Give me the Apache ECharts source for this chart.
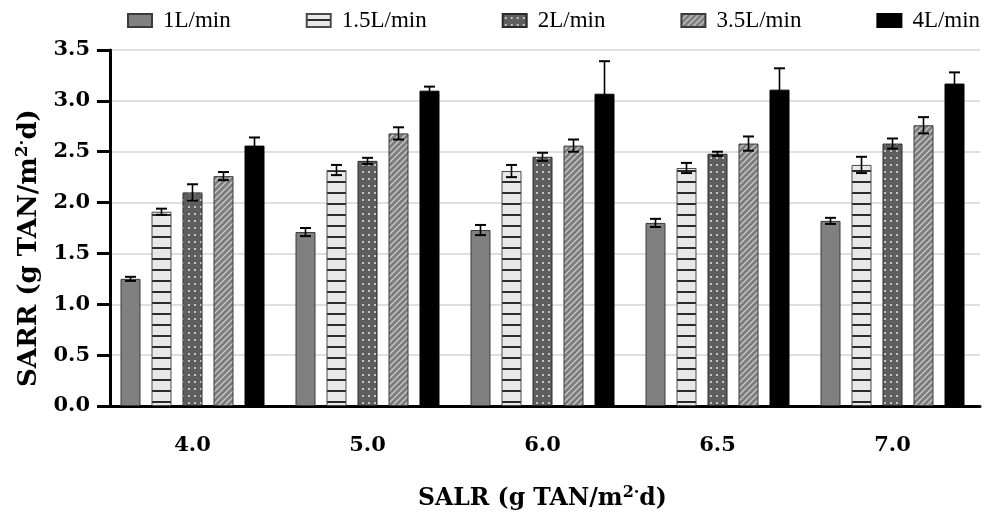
<!DOCTYPE html>
<html>
<head>
<meta charset="utf-8">
<script src="https://cdn.jsdelivr.net/npm/echarts@6/dist/echarts.min.js"></script>
<style>html,body{margin:0;padding:0;background:#fff;}#c{width:1003px;height:516px;}</style>
</head>
<body>
<div id="c"></div>
<script>
const categories = ['4.0', '5.0', '6.0', '6.5', '7.0'];
const seriesNames = ['1L/min', '1.5L/min', '2L/min', '3.5L/min', '4L/min'];
const yTicks = [0, 0.5, 1.0, 1.5, 2.0, 2.5, 3.0, 3.5];
const values_1 = [1.25, 1.71, 1.73, 1.80, 1.82];
const errors_1 = [0.02, 0.04, 0.05, 0.04, 0.03];
const values_15 = [1.91, 2.32, 2.31, 2.34, 2.37];
const errors_15 = [0.03, 0.05, 0.06, 0.05, 0.08];
const values_2 = [2.10, 2.41, 2.45, 2.48, 2.58];
const errors_2 = [0.08, 0.03, 0.04, 0.02, 0.05];
const values_35 = [2.26, 2.68, 2.56, 2.58, 2.76];
const errors_35 = [0.04, 0.06, 0.06, 0.07, 0.08];
const values_4 = [2.56, 3.10, 3.07, 3.11, 3.17];
const errors_4 = [0.08, 0.04, 0.32, 0.21, 0.11];

const allValues = [values_1, values_15, values_2, values_35, values_4];
const allErrors = [errors_1, errors_15, errors_2, errors_35, errors_4];

function makeCanvas(w, h, draw) {
  const cv = document.createElement('canvas');
  cv.width = w; cv.height = h;
  draw(cv.getContext('2d'));
  return cv;
}
const patStripes = makeCanvas(8, 11, g => {
  g.fillStyle = '#e8e8e8'; g.fillRect(0, 0, 8, 11);
  g.fillStyle = '#2b2b2b'; g.fillRect(0, 5, 8, 2);
});
const patDots = makeCanvas(6, 7, g => {
  g.fillStyle = '#5e5e5e'; g.fillRect(0, 0, 6, 7);
  g.fillStyle = '#c4c4c4'; g.fillRect(2, 3, 2, 2);
});
const patDiag = makeCanvas(6, 6, g => {
  g.fillStyle = '#7c7c7c'; g.fillRect(0, 0, 6, 6);
  g.strokeStyle = '#c8c8c8'; g.lineWidth = 1.4;
  g.beginPath();
  g.moveTo(-1, 7); g.lineTo(7, -1);
  g.moveTo(-4, 4); g.lineTo(4, -4);
  g.moveTo(2, 10); g.lineTo(10, 2);
  g.stroke();
});

const fills = [
  '#808080',
  { image: patStripes, repeat: 'repeat' },
  { image: patDots, repeat: 'repeat' },
  { image: patDiag, repeat: 'repeat' },
  '#000000'
];
const borders = ['#3a3a3a', '#4a4a4a', '#2a2a2a', '#3a3a3a', '#000000'];

const BAR_W = 20, PITCH = 31;

const barSeries = seriesNames.map((name, i) => ({
  name: name,
  type: 'bar',
  data: allValues[i],
  barWidth: BAR_W,
  barGap: '55%',
  itemStyle: { color: fills[i], borderColor: borders[i], borderWidth: 1 },
  emphasis: { disabled: true },
  z: 2
}));

const errSeries = seriesNames.map((name, i) => ({
  name: name + ' err',
  type: 'custom',
  z: 5,
  data: allValues[i].map((v, k) => [k, v, allErrors[i][k]]),
  renderItem: function (params, api) {
    const k = api.value(0), v = api.value(1), e = api.value(2);
    const hi = api.coord([k, v + e]);
    const lo = api.coord([k, v - e]);
    const x = hi[0] + (i - 2) * PITCH;
    const cap = 5.5;
    const st = { stroke: '#000', lineWidth: 2 };
    return {
      type: 'group',
      children: [
        { type: 'line', shape: { x1: x, y1: hi[1], x2: x, y2: lo[1] }, style: { stroke: '#000', lineWidth: 1.6 } },
        { type: 'line', shape: { x1: x - cap, y1: hi[1], x2: x + cap, y2: hi[1] }, style: st },
        { type: 'line', shape: { x1: x - cap, y1: lo[1], x2: x + cap, y2: lo[1] }, style: st }
      ]
    };
  }
}));

const serifBold = { fontFamily: 'DejaVu Serif', fontWeight: 'bold', color: '#000' };
const supRichX = { sup: { fontFamily: 'DejaVu Serif', fontWeight: 'bold', fontSize: 16, verticalAlign: 'top', padding: [0, 0, 12, 0] } };
const supRichY = { sup: { fontFamily: 'DejaVu Serif', fontWeight: 'bold', fontSize: 17, verticalAlign: 'top', padding: [0, 0, 13, 0] } };

const chart = echarts.init(document.getElementById('c'), null, { renderer: 'canvas' });
chart.setOption({
  backgroundColor: '#fff',
  animation: false,
  legend: {
    data: seriesNames.map(n => ({ name: n, icon: 'rect' })),
    top: 4,
    left: 122,
    itemWidth: 24,
    itemHeight: 13,
    itemGap: 75,
    textStyle: { fontFamily: 'Liberation Serif', fontSize: 23, color: '#000', padding: [0, 0, 0, 6] }
  },
  grid: { left: 105, right: 23, top: 50, bottom: 108, containLabel: false },
  xAxis: {
    type: 'category',
    data: categories,
    axisLine: { lineStyle: { color: '#000', width: 3 } },
    axisTick: { alignWithLabel: true, length: 15, lineStyle: { width: 3, color: '#000' } },
    axisLabel: Object.assign({ fontSize: 21, margin: 29 }, serifBold),
    name: 'SALR (g TAN/m{sup|2·}d)',
    nameLocation: 'middle',
    nameGap: 79,
    nameTextStyle: Object.assign({ fontSize: 23.5, rich: supRichX }, serifBold)
  },
  yAxis: {
    type: 'value',
    min: 0, max: 3.5, interval: 0.5,
    offset: -5,
    axisLine: { show: true, lineStyle: { color: '#000', width: 3 } },
    axisTick: { show: true, length: 13, lineStyle: { width: 3, color: '#000' } },
    axisLabel: Object.assign({ fontSize: 21, margin: 20, formatter: v => v.toFixed(1) }, serifBold),
    splitLine: { show: true, lineStyle: { color: '#d4d4d4', width: 1.5 } },
    name: 'SARR (g TAN/m{sup|2·}d)',
    nameLocation: 'middle',
    nameRotate: 90,
    nameGap: 62,
    nameTextStyle: Object.assign({ fontSize: 26, padding: [0, 40, 0, 0], rich: supRichY }, serifBold)
  },
  series: barSeries.concat(errSeries)
});
</script>
</body>
</html>
